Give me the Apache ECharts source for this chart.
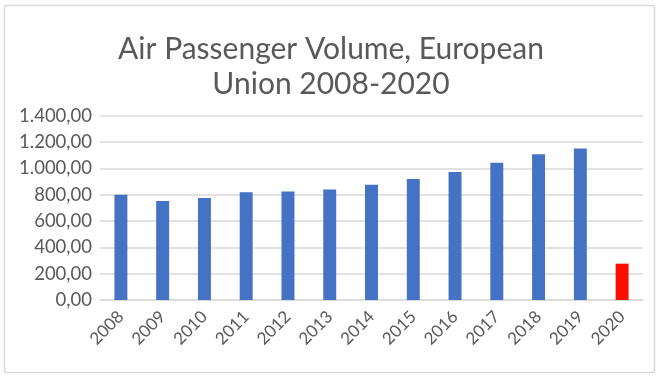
<!DOCTYPE html>
<html>
<head>
<meta charset="utf-8">
<script src="https://cdn.jsdelivr.net/npm/echarts@6/dist/echarts.min.js"></script>
<style>
html,body{margin:0;padding:0;background:#fff;}
#chart{width:662px;height:381px;}
</style>
</head>
<body>
<div id="chart"></div>
<script>
var titleText = 'Air Passenger Volume, European\nUnion 2008-2020';
var years = ['2008','2009','2010','2011','2012','2013','2014','2015','2016','2017','2018','2019','2020'];
var passengers = [799, 752, 774, 818, 825, 840, 876, 920, 972, 1042, 1107, 1150, 276];
var highlightYear = '2020';
var yTicks = [0, 200, 400, 600, 800, 1000, 1200, 1400];

function fmt(v){
  var s = v.toFixed(2).split('.');
  var intPart = s[0].replace(/\B(?=(\d{3})+(?!\d))/g, '.');
  return intPart + ',' + s[1];
}

var chart = echarts.init(document.getElementById('chart'));
chart.setOption({
  animation: false,
  backgroundColor: '#fff',
  textStyle: {fontFamily: 'Lato'},
  graphic: [{
    type: 'rect',
    shape: {x: 4.5, y: 5.5, width: 650, height: 367, r: 2},
    style: {fill: 'none', stroke: '#d9d9d9', lineWidth: 1.5},
    silent: true
  }],
  title: {
    text: titleText,
    left: 'center',
    top: 27,
    textStyle: {fontFamily: 'Lato', fontSize: 30, fontWeight: 'normal', color: '#595959', lineHeight: 35}
  },
  grid: {left: 100, right: 19, top: 115.7, bottom: 81},
  xAxis: {
    type: 'category',
    data: years,
    axisLine: {lineStyle: {color: '#d9d9d9', width: 1.5}},
    axisTick: {show: false},
    axisLabel: {rotate: 45, color: '#595959', fontSize: 17, margin: 14, interval: 0, fontFamily: 'Lato'}
  },
  yAxis: {
    type: 'value',
    min: yTicks[0],
    max: yTicks[yTicks.length - 1],
    interval: yTicks[1] - yTicks[0],
    axisLine: {show: false},
    axisTick: {show: false},
    splitLine: {lineStyle: {color: '#d9d9d9', width: 1.5}},
    axisLabel: {color: '#595959', fontSize: 18.5, margin: 8, formatter: fmt, fontFamily: 'Lato'}
  },
  series: [{
    type: 'bar',
    data: passengers,
    barWidth: '31%',
    itemStyle: {
      color: function(p){ return years[p.dataIndex] === highlightYear ? '#ff0d00' : '#4472c4'; }
    }
  }]
});
</script>
</body>
</html>
